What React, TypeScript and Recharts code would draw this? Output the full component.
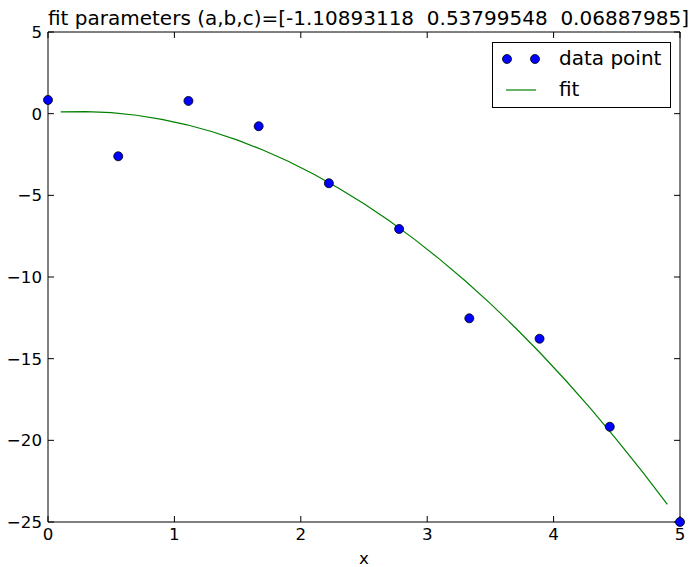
import React from 'react';
import { ComposedChart, Line, Scatter, XAxis, YAxis } from 'recharts';

// Measured samples (x = linspace(0, 5, 10))
const sampleX = [0, 0.5556, 1.1111, 1.6667, 2.2222, 2.7778, 3.3333, 3.8889, 4.4444, 5.0];
const sampleY = [0.84, -2.61, 0.78, -0.77, -4.26, -7.06, -12.53, -13.78, -19.17, -25.0];

// Fitted quadratic, tabulated from x = 0.1 to 4.9
const fitX = [
  0.1, 0.3, 0.5, 0.7, 0.9, 1.1, 1.3, 1.5, 1.7, 1.9, 2.1, 2.3, 2.5,
  2.7, 2.9, 3.1, 3.3, 3.5, 3.7, 3.9, 4.1, 4.3, 4.5, 4.7, 4.9,
];
const fitY = [
  0.1116, 0.1305, 0.0606, -0.0979, -0.3452, -0.6811, -1.1058, -1.6192,
  -2.2213, -2.9122, -3.6917, -4.56, -5.517, -6.5626, -7.697, -8.9202,
  -10.232, -11.6325, -13.1218, -14.6998, -16.3665, -18.1219, -19.966,
  -21.8988, -23.9204,
];

const xTicks = [0, 1, 2, 3, 4, 5];
const yTicks = [5, 0, -5, -10, -15, -20, -25];
const xDomain = [0, 5];
const yDomain = [-25, 5];

const titleText = 'fit parameters (a,b,c)=[-1.10893118  0.53799548  0.06887985]';
const seriesNames = ['data point', 'fit'];
const xLabel = 'x';

const points = sampleX.map((x, i) => ({ x, y: sampleY[i] }));
const fitPoints = fitX.map((x, i) => ({ x, y: fitY[i] }));

// Top and right edges of the axes box
const frameEdge = [
  { x: xDomain[0], y: yDomain[1] },
  { x: xDomain[1], y: yDomain[1] },
  { x: xDomain[1], y: yDomain[0] },
];

// Inward tick marks on all four sides
const tickMarks = [
  ...xTicks.map((t) => ({ x: t, y: yDomain[0], dir: 'up' })),
  ...xTicks.map((t) => ({ x: t, y: yDomain[1], dir: 'down' })),
  ...yTicks.map((t) => ({ x: xDomain[0], y: t, dir: 'right' })),
  ...yTicks.map((t) => ({ x: xDomain[1], y: t, dir: 'left' })),
];

const FONT = '"DejaVu Sans", sans-serif';
const TICK_LEN = 6;
const BLUE = '#0000ff';
const GREEN = '#008000';

const fmt = (v: number) => (v < 0 ? '\u2212' + Math.abs(v) : String(v));

const BottomTickLabel = (props: any) => {
  const { x, y, payload } = props;
  return (
    <text x={x} y={y + 18} textAnchor="middle" fontSize={16.67} fontFamily={FONT} fill="#000">
      {fmt(payload.value)}
    </text>
  );
};

const LeftTickLabel = (props: any) => {
  const { x, y, payload } = props;
  return (
    <text x={x - 6} y={y + 6} textAnchor="end" fontSize={16.67} fontFamily={FONT} fill="#000">
      {fmt(payload.value)}
    </text>
  );
};

const TickMark = (props: any) => {
  const { cx, cy, payload } = props;
  const dir = payload && payload.dir;
  const dx = dir === 'right' ? TICK_LEN : dir === 'left' ? -TICK_LEN : 0;
  const dy = dir === 'down' ? TICK_LEN : dir === 'up' ? -TICK_LEN : 0;
  return <line x1={cx} y1={cy} x2={cx + dx} y2={cy + dy} stroke="#000" strokeWidth={1} />;
};

const Dot = (props: any) => {
  const { cx, cy } = props;
  return <circle cx={cx} cy={cy} r={4.5} fill={BLUE} stroke="#000" strokeWidth={0.8} />;
};

const LegendBox = () => (
  <svg width={180} height={67} style={{ display: 'block' }}>
    <rect x={0.5} y={0.5} width={178} height={65} fill="#fff" stroke="#000" strokeWidth={1} />
    <circle cx={15} cy={17} r={4.5} fill={BLUE} stroke="#000" strokeWidth={0.8} />
    <circle cx={43} cy={17} r={4.5} fill={BLUE} stroke="#000" strokeWidth={0.8} />
    <text x={67} y={23} fontSize={20} fontFamily={FONT} fill="#000">
      {seriesNames[0]}
    </text>
    <line x1={14} y1={48} x2={44} y2={48} stroke={GREEN} strokeWidth={1.2} />
    <text x={67} y={54} fontSize={20} fontFamily={FONT} fill="#000">
      {seriesNames[1]}
    </text>
  </svg>
);

export default function App() {
  return (
    <div style={{ position: 'absolute', left: 0, top: 0, width: 696, height: 567 }}>
      <ComposedChart width={696} height={567} margin={{ top: 32, right: 16, bottom: 0, left: 0 }}>
        <XAxis
          dataKey="x"
          type="number"
          domain={xDomain}
          ticks={xTicks}
          height={45}
          tickSize={0}
          tickMargin={0}
          tickLine={false}
          tick={<BottomTickLabel />}
          axisLine={{ stroke: '#000', strokeWidth: 1 }}
          label={{ value: xLabel, position: 'insideBottom', offset: 3, fontSize: 16.67, fill: '#000', fontFamily: FONT }}
        />
        <YAxis
          dataKey="y"
          type="number"
          domain={yDomain}
          ticks={yTicks}
          width={48}
          tickSize={0}
          tickMargin={0}
          tickLine={false}
          tick={<LeftTickLabel />}
          axisLine={{ stroke: '#000', strokeWidth: 1 }}
        />
        <Line
          data={frameEdge}
          dataKey="y"
          type="linear"
          stroke="#000"
          strokeWidth={1}
          dot={false}
          activeDot={false}
          legendType="none"
          isAnimationActive={false}
        />
        <Scatter
          data={tickMarks}
          dataKey="y"
          shape={<TickMark />}
          legendType="none"
          isAnimationActive={false}
        />
        <Line
          data={fitPoints}
          dataKey="y"
          name={seriesNames[1]}
          type="linear"
          stroke={GREEN}
          strokeWidth={1.2}
          dot={false}
          activeDot={false}
          isAnimationActive={false}
        />
        <Scatter
          data={points}
          dataKey="y"
          name={seriesNames[0]}
          fill={BLUE}
          shape={<Dot />}
          isAnimationActive={false}
        />
      </ComposedChart>
      <div
        style={{
          position: 'absolute',
          left: 48,
          top: 8,
          width: 632,
          textAlign: 'center',
          fontFamily: FONT,
          fontSize: 20,
          lineHeight: '20px',
          whiteSpace: 'pre',
          color: '#000',
        }}
      >
        {titleText}
      </div>
      <div style={{ position: 'absolute', left: 492, top: 42 }}>
        <LegendBox />
      </div>
    </div>
  );
}
